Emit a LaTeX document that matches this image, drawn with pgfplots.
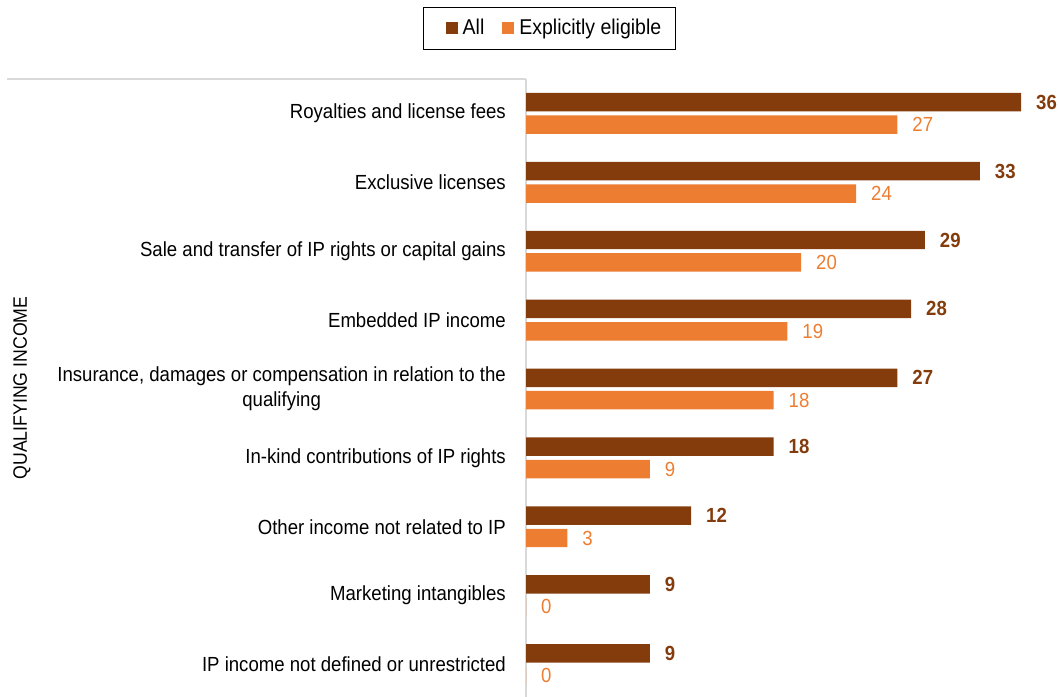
\documentclass[border=0pt]{standalone}
\usepackage{pgfplots}
\pgfplotsset{compat=1.18}
\usepackage{pgfplotstable}
\usepackage{fontspec}
\setmainfont{Liberation Sans}[FakeStretch=0.91]
\definecolor{cAll}{HTML}{843C0C}
\definecolor{cElig}{HTML}{ED7D31}
\definecolor{cGrid}{HTML}{D9D9D9}
\pgfplotstableread{
y all elig
8 36 27
7 33 24
6 29 20
5 28 19
4 27 18
3 18 9
2 12 3
1 9 0
0 9 0
}\datatable
\begin{document}
\fontsize{20.5}{25}\selectfont
\begin{tikzpicture}
\path[use as bounding box] (0bp,0bp) rectangle (1059bp,697bp);
\begin{axis}[
  at={(526bp,-2bp)}, anchor=south west,
  scale only axis, width=529.4bp, height=620bp,
  xmin=0, xmax=38.5, ymin=-0.5, ymax=8.5,
  axis x line=none, axis y line*=left,
  y axis line style={draw=cGrid, line width=1.3bp, -},
  ytick={0,...,8},
  yticklabels={IP income not defined or unrestricted, Marketing intangibles, Other income not related to IP, In-kind contributions of IP rights, {Insurance, damages or compensation in relation to the\\qualifying}, Embedded IP income, Sale and transfer of IP rights or capital gains, Exclusive licenses, Royalties and license fees},
  major tick length=0pt,
  yticklabel style={align=center, inner sep=0pt, xshift=-20bp, text=black},
  /pgf/number format/assume math mode=true,
  xbar, bar width=0.268, clip=false,
  every axis plot/.append style={legend image code/.code={\path (0bp,0bp) (25bp,0bp); \fill[##1] (10bp,-6bp) rectangle (22bp,6bp);}},
  legend style={at={(axis description cs:0.0444,1.0815)}, anchor=center, draw=black, line width=1.3bp, inner xsep=12bp, inner ysep=10bp, legend columns=2, font=\fontsize{21.5}{26}\selectfont, /tikz/every even column/.append style={column sep=6bp}},
  legend cell align=left,
]
\addplot[fill=cAll, draw=none, bar shift=0.163, nodes near coords,
  every node near coord/.append style={font=\bfseries, text=cAll, anchor=west, inner sep=0pt, xshift=15bp}]
  table[x=all, y=y] {\datatable};
\addplot[fill=cElig, draw=none, bar shift=-0.163, nodes near coords,
  every node near coord/.append style={text=cElig, anchor=west, inner sep=0pt, xshift=15bp}]
  table[x=elig, y=y] {\datatable};
\legend{All, Explicitly eligible}
\end{axis}
\draw[cGrid, line width=1.3bp] (7bp,618bp) -- (526bp,618bp);
\node[rotate=90, font=\fontsize{19.5}{24}\selectfont] at (22bp,309bp) {QUALIFYING INCOME};
\end{tikzpicture}
\end{document}
